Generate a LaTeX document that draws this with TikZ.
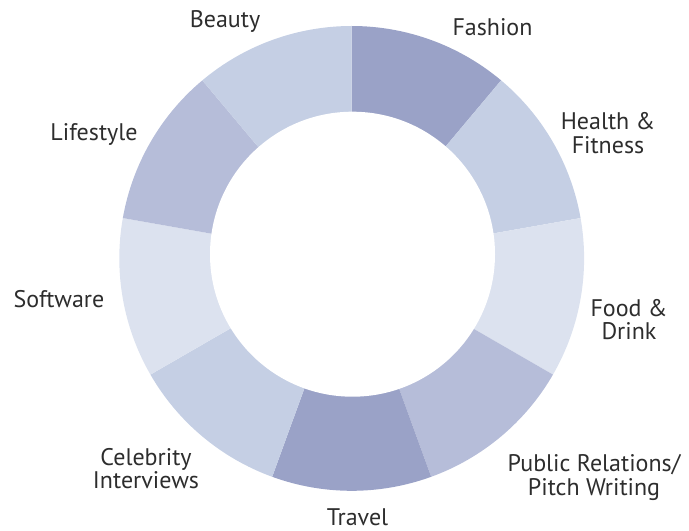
\documentclass[tikz,border=0pt]{standalone}
\usepackage{fontspec}
\setmainfont{PT Sans}

\definecolor{segdark}{RGB}{154,162,199}
\definecolor{segmid}{RGB}{182,189,217}
\definecolor{seglight}{RGB}{197,207,228}
\definecolor{segpale}{RGB}{220,226,239}
\definecolor{labeltext}{RGB}{45,45,45}

\begin{document}
\begin{tikzpicture}[x=0.75pt,y=0.75pt,yscale=-1,xscale=1,
  seg/.style={draw opacity=0,fill opacity=1},
  lbl/.style={text=labeltext,font=\fontsize{18}{17.5}\selectfont,align=center,inner sep=0pt}]
\useasboundingbox (0,0) rectangle (689,531);
\coordinate (ctr) at (351.7,258.4);

%Shape: Segment Fashion
\fill [seg,segdark] (ctr) -- ++(-90:232.4) arc (-90:-50:232.4) -- cycle ;
%Shape: Segment Health
\fill [seg,seglight] (ctr) -- ++(-50:232.4) arc (-50:-10:232.4) -- cycle ;
%Shape: Segment Food
\fill [seg,segpale] (ctr) -- ++(-10:232.4) arc (-10:30:232.4) -- cycle ;
%Shape: Segment PR
\fill [seg,segmid] (ctr) -- ++(30:232.4) arc (30:70:232.4) -- cycle ;
%Shape: Segment Travel
\fill [seg,segdark] (ctr) -- ++(70:232.4) arc (70:110:232.4) -- cycle ;
%Shape: Segment Celebrity
\fill [seg,seglight] (ctr) -- ++(110:232.4) arc (110:150:232.4) -- cycle ;
%Shape: Segment Software
\fill [seg,segpale] (ctr) -- ++(150:232.4) arc (150:190:232.4) -- cycle ;
%Shape: Segment Lifestyle
\fill [seg,segmid] (ctr) -- ++(190:232.4) arc (190:230:232.4) -- cycle ;
%Shape: Segment Beauty
\fill [seg,seglight] (ctr) -- ++(230:232.4) arc (230:270:232.4) -- cycle ;

%Shape: Circle (hole)
\fill [white] (352.5,254.2) circle [radius=142.5] ;

% Text Node
\node [lbl,anchor=base] (beauty) at (225,27.3) {Beauty};
% Text Node
\node [lbl,anchor=base] (fashion) at (492.5,36) {Fashion};
% Text Node
\node [lbl] (health) at (608,133) {Health \&\\Fitness};
% Text Node
\node [lbl] (food) at (629,319.5) {Food \&\\Drink};
% Text Node
\node [lbl] (pr) at (594,477.6) {Public Relations/\\Pitch Writing};
% Text Node
\node [lbl,anchor=base] (travel) at (357.5,525.5) {Travel};
% Text Node
\node [lbl] (celebrity) at (146,468.7) {Celebrity\\Interviews};
% Text Node
\node [lbl,anchor=base] (software) at (59,307.3) {Software};
% Text Node
\node [lbl,anchor=base] (lifestyle) at (94,140.7) {Lifestyle};

\end{tikzpicture}
\end{document}
